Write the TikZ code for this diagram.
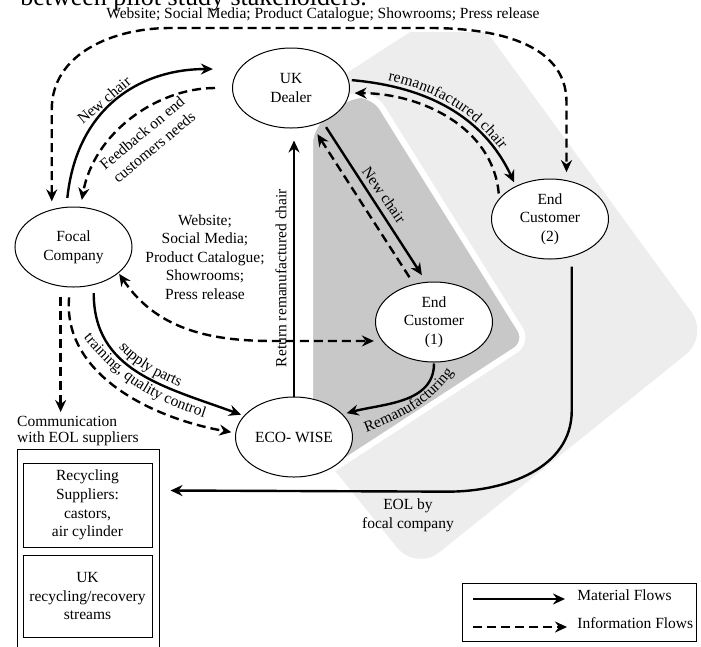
\documentclass[tikz,border=0pt]{standalone}
\usepackage{fontspec}
\setmainfont{Liberation Serif}
\usetikzlibrary{arrows.meta, calc, shapes.geometric, decorations.text}
\definecolor{lightbg}{HTML}{EDEDED}
\definecolor{darkbg}{HTML}{C8C8C8}

\begin{document}
\fontsize{15.5}{18.6}\selectfont
\begin{tikzpicture}[x = 1pt, y = 1pt, > = {Stealth[length=12pt, width=11pt, inset=4pt]},
    actor/.style = {ellipse, draw, line width=1pt, fill=white, minimum width=117pt, minimum height=80pt, inner sep=0pt, align=center},
    boxnode/.style = {rectangle, draw, line width=1pt, align=center, inner sep=0pt},
    matflow/.style = {line width=2.4pt},
    infoflow/.style = {line width=2.4pt, dash pattern=on 9pt off 5pt}]
          \useasboundingbox (0,0) rectangle (701,-646);
          \clip (0,0) rectangle (701,-646);
          \node[anchor=base west, font=\fontsize{26}{30}\selectfont] (caption) at (15,-5) {between pilot study stakeholders.};

          % shaded areas
          \fill[lightbg] (313,-95) -- (410,-32) -- (487,-32) [rounded corners=30pt] -- (709,-336) -- (416,-571) [sharp corners] -- (336,-472) -- (313,-460) -- cycle;
          \filldraw[fill=darkbg, draw=white, line width=6pt, rounded corners=15pt] (310,-128) -- (348,-95) -- (374,-95) -- (528,-342) -- (310,-484) -- cycle;

          \node[actor] (dealer) at (291,-88) {UK\\Dealer};
          \node[actor] (focal) at (73.5,-247) {Focal\\Company};
          \node[actor] (ectwo) at (550,-219) {End\\Customer\\(2)};
          \node[actor] (econe) at (434,-322) {End\\Customer\\(1)};
          \node[actor] (ecowise) at (294,-437) {ECO- WISE};

          \node (topinfo) at (323,-15) {Website; Social Media; Product Catalogue; Showrooms; Press release};
          \node[align=center] (webinfo) at (205,-257) {Website;\\Social Media;\\Product Catalogue;\\Showrooms;\\Press release};
          \node[align=left, anchor=north west, inner sep=2pt, font=\fontsize{15.5}{16.5}\selectfont] (comm) at (15,-414) {Communication\\with EOL suppliers};
          \node[boxnode, minimum width=142pt, minimum height=212pt] (eolbox) at (88,-555) {};
          \node[boxnode, minimum width=129pt, minimum height=84pt] (recyc) at (87.5,-505) {Recycling\\Suppliers:\\castors,\\air cylinder};
          \node[boxnode, minimum width=129pt, minimum height=82pt] (ukrec) at (87.5,-596) {UK\\recycling/recovery\\streams};

          \node[rotate=40] (newchairA) at (104,-100) {New chair};
          \node[rotate=40, align=center] (feedback) at (148,-140) {Feedback on end\\customers needs};
          \node[rotate=90] (returnlbl) at (281,-278) {Return remanufactured chair};
          \node[rotate=-55] (newchairB) at (384,-195) {New chair};
          \node[align=center] (eollbl) at (408,-515) {EOL by\\focal company};

          % information flows
          \draw[infoflow, <->, shorten <=8pt, shorten >=8pt] (focal.120) -- ($(focal.120)+(0,100)$) to[out=90, in=180] (170,-28) -- (430,-28) to[out=0, in=90] ($(ectwo.67)+(0,78)$) -- (ectwo.67);
          \draw[infoflow, ->, shorten <=17pt, shorten >=7pt] (dealer.west) to[out=180, in=80] (focal.80);
          \draw[infoflow, ->, shorten <=8pt, shorten >=10pt] (econe.118) -- (dealer.-61);
          \draw[infoflow, ->, shorten <=5pt, shorten >=5pt] (ectwo.158) to[out=95, in=0] (dealer.-5);
          \draw[infoflow, <->, shorten <=1pt, shorten >=8pt] (focal.-30) to[out=-56, in=180] ($(econe.200)+(-110,0)$) -- (econe.200);
          \draw[infoflow, ->, shorten <=10pt, shorten >=4pt] (focal.-95) to[out=-95, in=170] (ecowise.176);
          \path[postaction={decorate, decoration={text along path, text={training, quality control}, text align=center}}]
              ($(focal.-95)+(11,-47)$) to[out=-52, in=162] ($(ecowise.176)+(-27,14)$);
          \draw[infoflow, ->, shorten <=10pt, shorten >=2pt] (focal.-108) -- (focal.-108 |- comm.north);

          % material flows
          \draw[matflow, ->, shorten <=9pt, shorten >=26pt] (focal.100) to[out=84, in=180, looseness=1.15] (dealer.160);
          \draw[matflow, ->, shorten >=12pt] (ecowise.north) -- (ecowise.north |- dealer.south);
          \draw[matflow, ->, shorten <=6pt, shorten >=8pt] (dealer.-47) -- (econe.101);
          \draw[matflow, ->, shorten <=3pt, shorten >=4pt,
              postaction={decorate, decoration={text along path, text={remanufactured chair}, text align=center, raise=5pt}}]
              (dealer.8) to[out=-5, in=115] (ectwo.136);
          \draw[matflow, ->, shorten <=8pt, shorten >=3pt,
              postaction={decorate, decoration={text along path, text={supply parts}, text align=center, raise=5pt}}]
              (focal.-62) to[out=-90, in=160, looseness=1.1] (ecowise.157);
          \draw[matflow, ->, shorten <=1pt, shorten >=4pt] (econe.south) to[out=-90, in=15] (ecowise.25);
          \path[postaction={decorate, decoration={text along path, text={Remanufacturing}, text align=center}}]
              ($(ecowise.east)+(8,3)$) to[out=20, in=-125] ($(econe.-60)+(1,-8)$);
          \draw[matflow, ->, shorten <=10pt] (ectwo.-60) -- ++(0,-154) to[out=-90, in=0] ++(-124,-81) -- ($(recyc.north east)+(18,-28)$);

          % legend
          \node[boxnode, minimum width=234pt, minimum height=58pt] (legend) at (579,-612) {};
          \node[anchor=west] (matlbl) at (572,-595) {Material Flows};
          \node[anchor=west] (infolbl) at (572,-623) {Information Flows};
          \coordinate (matstart) at (473,-599);
          \coordinate (infostart) at (473,-627);
          \draw[matflow, ->, shorten >=7pt] (matstart) -- (matstart -| matlbl.west);
          \draw[infoflow, ->, shorten >=5pt] (infostart) -- (infostart -| infolbl.west);
%          \draw[matflow] (eolbox.south west) -- (eolbox.south east);
        \end{tikzpicture}
\end{document}
